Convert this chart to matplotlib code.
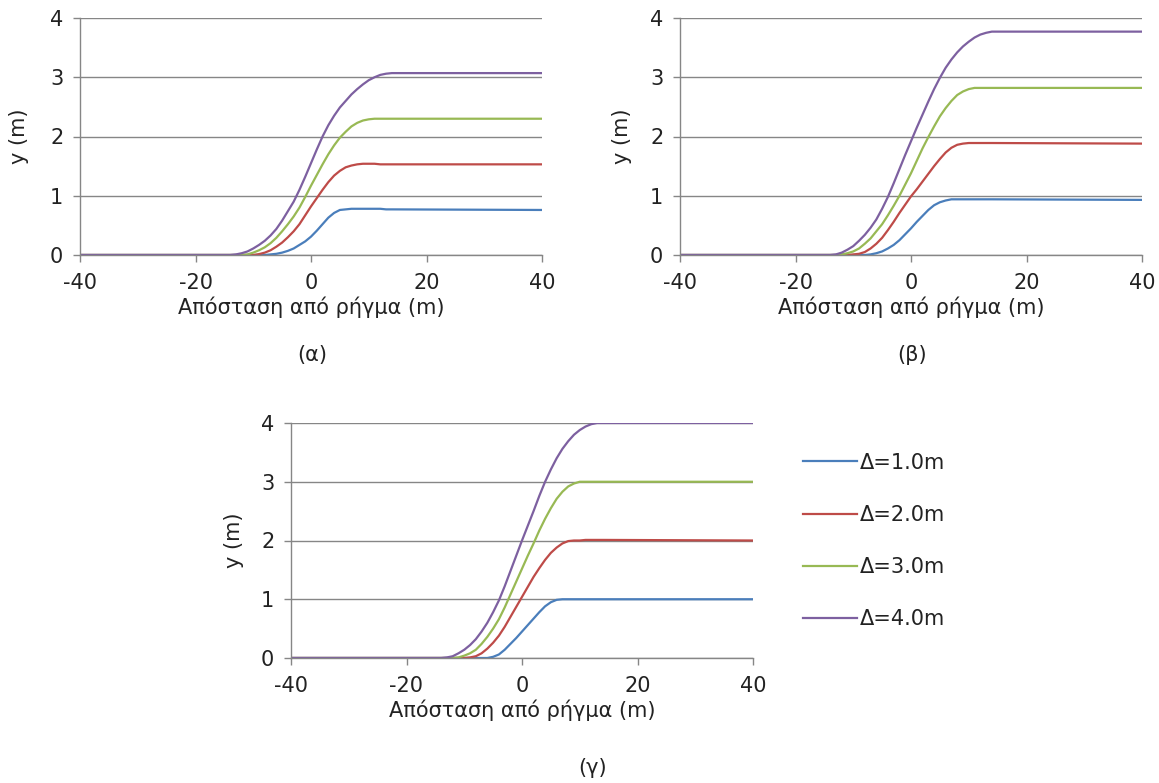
import matplotlib
matplotlib.use("Agg")
import matplotlib.pyplot as plt

plt.rcParams['font.family'] = ['DejaVu Sans']
plt.rcParams['axes.unicode_minus'] = False

# x positions (m), read every 1 m over the transition zone
x_pts = [-40, -14, -13, -12, -11, -10, -9, -8, -7, -6, -5, -4, -3, -2, -1, 0,
         1, 2, 3, 4, 5, 6, 7, 8, 9, 10, 11, 12, 13, 14, 40]

labels = ['Δ=1.0m', 'Δ=2.0m', 'Δ=3.0m', 'Δ=4.0m']
colors = ['#4a7ebb', '#be4b48', '#98b954', '#7d60a0']

# (α)
a_d1 = [0, 0, 0, 0, 0, 0, 0, 0, 0.01, 0.02, 0.04, 0.07, 0.11, 0.17, 0.23, 0.31,
        0.41, 0.52, 0.63, 0.71, 0.76, 0.77, 0.78, 0.78, 0.78, 0.78, 0.78, 0.78, 0.77, 0.77, 0.76]
a_d2 = [0, 0, 0, 0, 0, 0, 0.015, 0.04, 0.08, 0.14, 0.21, 0.30, 0.40, 0.52, 0.67, 0.82,
        0.96, 1.10, 1.23, 1.34, 1.42, 1.48, 1.51, 1.53, 1.54, 1.54, 1.54, 1.53, 1.53, 1.53, 1.53]
a_d3 = [0, 0, 0, 0, 0.01, 0.04, 0.08, 0.13, 0.20, 0.29, 0.40, 0.52, 0.65, 0.80, 0.98, 1.17,
        1.35, 1.53, 1.70, 1.85, 1.98, 2.08, 2.17, 2.23, 2.27, 2.29, 2.30, 2.30, 2.30, 2.30, 2.30]
a_d4 = [0, 0, 0.01, 0.03, 0.06, 0.11, 0.17, 0.24, 0.33, 0.44, 0.58, 0.74, 0.90, 1.10, 1.32, 1.55,
        1.78, 2.00, 2.19, 2.35, 2.49, 2.60, 2.71, 2.80, 2.88, 2.95, 3.00, 3.04, 3.06, 3.07, 3.07]

# (β)
b_d1 = [0, 0, 0, 0, 0, 0, 0, 0, 0.01, 0.03, 0.06, 0.11, 0.17, 0.25, 0.35, 0.45,
        0.56, 0.66, 0.76, 0.84, 0.89, 0.92, 0.94, 0.94, 0.94, 0.94, 0.94, 0.94, 0.94, 0.94, 0.93]
b_d2 = [0, 0, 0, 0, 0, 0.01, 0.02, 0.05, 0.11, 0.19, 0.29, 0.42, 0.56, 0.71, 0.85, 0.99,
        1.11, 1.24, 1.37, 1.50, 1.62, 1.73, 1.81, 1.86, 1.88, 1.89, 1.89, 1.89, 1.89, 1.89, 1.88]
b_d3 = [0, 0, 0, 0.01, 0.03, 0.06, 0.11, 0.19, 0.28, 0.40, 0.52, 0.67, 0.83, 1.00, 1.19, 1.38,
        1.59, 1.80, 1.99, 2.17, 2.34, 2.48, 2.60, 2.70, 2.76, 2.80, 2.82, 2.82, 2.82, 2.82, 2.82]
b_d4 = [0, 0, 0.01, 0.04, 0.09, 0.15, 0.24, 0.34, 0.46, 0.60, 0.78, 0.98, 1.21, 1.45, 1.69, 1.92,
        2.15, 2.37, 2.59, 2.80, 2.99, 3.16, 3.30, 3.42, 3.52, 3.60, 3.67, 3.72, 3.75, 3.77, 3.77]

# (γ)
c_d1 = [0, 0, 0, 0, 0, 0, 0, 0, 0, 0, 0.02, 0.06, 0.14, 0.24, 0.34, 0.45,
        0.56, 0.67, 0.78, 0.88, 0.95, 0.99, 1.00, 1.00, 1.00, 1.00, 1.00, 1.00, 1.00, 1.00, 1.00]
c_d2 = [0, 0, 0, 0, 0, 0, 0.01, 0.03, 0.08, 0.16, 0.26, 0.38, 0.53, 0.70, 0.87, 1.04,
        1.21, 1.38, 1.53, 1.67, 1.79, 1.88, 1.95, 1.99, 2.00, 2.00, 2.01, 2.01, 2.01, 2.01, 2.00]
c_d3 = [0, 0, 0, 0, 0.01, 0.04, 0.08, 0.14, 0.24, 0.36, 0.50, 0.66, 0.86, 1.08, 1.30, 1.52,
        1.74, 1.95, 2.17, 2.37, 2.55, 2.71, 2.83, 2.92, 2.97, 3.00, 3.00, 3.00, 3.00, 3.00, 3.00]
c_d4 = [0, 0, 0.01, 0.03, 0.08, 0.14, 0.22, 0.32, 0.45, 0.60, 0.78, 0.98, 1.22, 1.48, 1.74, 2.00,
        2.25, 2.50, 2.76, 3.00, 3.21, 3.40, 3.56, 3.69, 3.80, 3.88, 3.94, 3.98, 4.00, 4.00, 4.00]

gray = '#868686'
txt = '#222222'
fs = 15

fig = plt.figure(figsize=(11.59, 7.83), dpi=100)
W, H = 1159.0, 783.0

def make_axes(left, top, right, bottom):
    return fig.add_axes([left / W, 1 - bottom / H, (right - left) / W, (bottom - top) / H])

def style(ax, ylab_x):
    ax.set_xlim(-40, 40)
    ax.set_ylim(0, 4)
    ax.set_xticks([-40, -20, 0, 20, 40])
    ax.set_yticks([0, 1, 2, 3, 4])
    ax.yaxis.grid(True, color=gray, linewidth=1.0)
    ax.set_axisbelow(True)
    for s in ['top', 'right']:
        ax.spines[s].set_visible(False)
    for s in ['left', 'bottom']:
        ax.spines[s].set_color(gray)
        ax.spines[s].set_linewidth(1.0)
    ax.tick_params(axis='both', colors=gray, labelcolor=txt, labelsize=fs, length=5, width=1.0)
    ax.tick_params(axis='x', pad=8)
    ax.tick_params(axis='y', pad=7)
    ax.set_xlabel('Απόσταση από ρήγμα (m)', fontsize=fs, color=txt)
    ax.set_ylabel('y (m)', fontsize=fs, color=txt)
    ax.xaxis.set_label_coords(0.5, -0.175)
    ax.yaxis.set_label_coords(ylab_x, 0.5)

ax1 = make_axes(80, 18, 542, 255)
ax2 = make_axes(680, 18, 1142, 255)
ax3 = make_axes(291, 423, 753, 658)

for ax, series, ylx in [(ax1, [a_d1, a_d2, a_d3, a_d4], -0.11),
                        (ax2, [b_d1, b_d2, b_d3, b_d4], -0.104),
                        (ax3, [c_d1, c_d2, c_d3, c_d4], -0.102)]:
    for ys, c, lab in zip(series, colors, labels):
        ax.plot(x_pts, ys, color=c, linewidth=1.6, label=lab, solid_joinstyle='round')
    style(ax, ylx)

ax3.legend(loc='center left', bbox_to_anchor=(1.108, 0.498), frameon=False,
           borderaxespad=0, borderpad=0, handlelength=2.6, handletextpad=0.15,
           labelspacing=1.55, fontsize=fs, labelcolor=txt)

fig.text(312 / W, 1 - 355 / H, '(α)', fontsize=fs, ha='center', va='center', color=txt)
fig.text(912 / W, 1 - 355 / H, '(β)', fontsize=fs, ha='center', va='center', color=txt)
fig.text(593 / W, 1 - 768 / H, '(γ)', fontsize=fs, ha='center', va='center', color=txt)

fig.savefig('out.png', dpi=100)
